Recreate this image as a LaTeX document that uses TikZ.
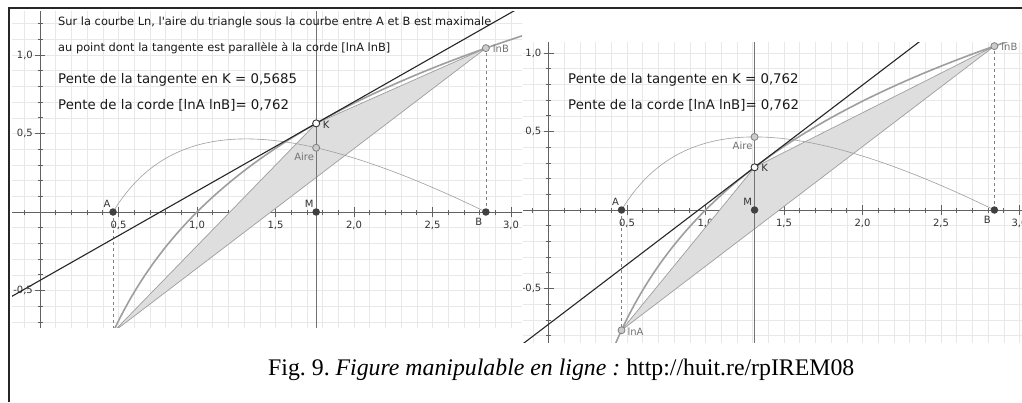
\documentclass[tikz,border=0pt]{standalone}
\usepackage{fontspec}
\setmainfont{Liberation Serif}
\newfontfamily\ggb{DejaVu Sans}
\frenchspacing
\pgfmathsetmacro\pA{0.465}
\pgfmathsetmacro\pB{2.84}
\pgfmathsetmacro\lnA{ln(\pA)}
\pgfmathsetmacro\lnB{ln(\pB)}
\pgfmathsetmacro\sC{(\lnB-\lnA)/(\pB-\pA)}
\tikzset{
 gridln/.style={draw=black!9, line width=0.5pt},
 axisln/.style={draw=black!62, line width=0.9pt},
 tickln/.style={draw=black!62, line width=0.8pt},
 ticklab/.style={font=\ggb\fontsize{10}{11}\selectfont, text=black!80, inner sep=0pt},
 lncurve/.style={draw=black!38, line width=1.6pt},
 tri/.style={fill=black!13, draw=black!38, line width=0.7pt},
 tangent/.style={draw=black!85, line width=1.1pt},
 airecurve/.style={draw=black!38, line width=0.6pt},
 mline/.style={draw=black!55, line width=0.7pt},
 dashln/.style={draw=black!50, dash pattern=on 3pt off 3pt, line width=0.6pt},
 darkpt/.style={circle, fill=black!75, inner sep=0pt, minimum size=7.5pt},
 openpt/.style={circle, fill=white, draw=black!80, line width=0.9pt, inner sep=0pt, minimum size=7pt},
 graypt/.style={circle, fill=black!20, draw=black!50, line width=0.8pt, inner sep=0pt, minimum size=7pt},
 ptlab/.style={font=\ggb\fontsize{10}{11}\selectfont, text=black!80, inner sep=0pt},
 graylab/.style={ptlab, text=black!55},
 smalltxt/.style={font=\ggb\fontsize{11.4}{13}\selectfont, anchor=base west, inner sep=0pt, text=black!90},
 bigtxt/.style={font=\ggb\fontsize{13.3}{15}\selectfont, anchor=base west, inner sep=0pt, text=black!90},
 framel/.style={draw=black!85, line width=1.5pt},
}
% #1 prefix, #2 ox, #3 oy, #4-#7 clip (pixels), #8 xK
\newcommand\drawpanel[8]{%
\begin{scope}
\clip (#4,#5) rectangle (#6,#7);
\begin{scope}[shift={(#2,#3)}, x=157pt, y=157pt]
 \pgfmathsetmacro\yK{ln(#8)}
 \pgfmathsetmacro\yAire{0.5*(\pB-\pA)*(\yK-\lnA-\sC*(#8-\pA))}
 \foreach \i in {-3,...,32} \draw[gridln] (\i/10,-1) -- (\i/10,1.5);
 \foreach \j in {-10,...,14} \draw[gridln] (-0.4,\j/10) -- (3.3,\j/10);
 \draw[axisln] (-0.4,0) -- (3.3,0);
 \draw[axisln] (0,-1) -- (0,1.5);
 \foreach \i in {-3,...,32} \draw[tickln] (\i/10,0) ++(0,-2.5pt) -- ++(0,5pt);
 \foreach \i in {1,...,6} \draw[tickln] (\i/2,0) ++(0,-5pt) -- ++(0,10pt);
 \foreach \j in {-10,...,14} \draw[tickln] (0,\j/10) ++(-2.5pt,0) -- ++(5pt,0);
 \foreach \j in {-2,-1,1,2} \draw[tickln] (0,\j/2) ++(-5pt,0) -- ++(10pt,0);
 \foreach \v/\lab in {0.5/{0,5},1/{1,0},1.5/{1,5},2/{2,0},2.5/{2,5},3/{3,0}}
   \node[ticklab] at ([yshift=-13pt]\v,0) {\lab};
 \node[ticklab, anchor=east] at ([xshift=-7pt]0,1) {1,0};
 \node[ticklab, anchor=east] at ([xshift=-7pt]0,0.5) {0,5};
 \node[ticklab, anchor=east] at ([xshift=-7pt]0,-0.5) {-0,5};
 \coordinate (#1lnA) at (\pA,\lnA);
 \coordinate (#1lnB) at (\pB,\lnB);
 \coordinate (#1K) at (#8,\yK);
 \coordinate (#1A) at (\pA,0);
 \coordinate (#1B) at (\pB,0);
 \coordinate (#1M) at (#8,0);
 \coordinate (#1Aire) at (#8,\yAire);
 \coordinate (#1Mtop) at (#8,1.5);
 \coordinate (#1Mbot) at (#8,-1);
 \coordinate (#1T1) at ({#8-2.5},{\yK-2.5/#8});
 \coordinate (#1T2) at ({#8+2.5},{\yK+2.5/#8});
 \filldraw[tri] (#1lnA) -- (#1lnB) -- (#1K) -- cycle;
 \draw[airecurve, domain=\pA:\pB, samples=120] plot (\x, {0.5*(\pB-\pA)*(ln(\x)-\lnA-\sC*(\x-\pA))});
 \draw[dashln] (#1A) -- (#1lnA);
 \draw[dashln] (#1B) -- (#1lnB);
 \draw[mline] (#1Mbot) -- (#1Mtop);
 \draw[lncurve, domain=0.42:3.3, samples=160] plot (\x, {ln(\x)});
 \draw[tangent] (#1T1) -- (#1T2);
 \node[darkpt] (#1pA) at (#1A) {};
 \node[darkpt] (#1pB) at (#1B) {};
 \node[darkpt] (#1pM) at (#1M) {};
 \node[graypt] (#1plnA) at (#1lnA) {};
 \node[graypt] (#1plnB) at (#1lnB) {};
 \node[graypt] (#1pAire) at (#1Aire) {};
 \node[openpt] (#1pK) at (#1K) {};
 \node[ptlab] (#1tA) at ([shift={(-6pt,8.5pt)}]#1A) {A};
 \node[ptlab] (#1tB) at ([shift={(-7pt,-9.5pt)}]#1B) {B};
 \node[ptlab] (#1tM) at ([shift={(-7pt,8.5pt)}]#1M) {M};
 \node[ptlab] (#1tK) at ([shift={(10pt,-1pt)}]#1K) {K};
 \node[graylab] (#1tAire) at ([shift={(-12pt,-9pt)}]#1Aire) {Aire};
 \node[graylab] (#1tlnA) at ([shift={(14pt,-1pt)}]#1lnA) {lnA};
 \node[graylab] (#1tlnB) at ([shift={(15pt,-1pt)}]#1lnB) {lnB};
\end{scope}
\end{scope}
}
\begin{document}
\begin{tikzpicture}[x=1pt, y=-1pt]
\useasboundingbox (0,0) rectangle (1022,402);
\fill[white] (0,0) rectangle (1022,402);
\drawpanel{L}{40}{212}{12}{11}{522}{327}{1.75901}
\drawpanel{R}{548.5}{210}{523}{42}{1022}{342}{1.31246}
\node[smalltxt] (t1) at (58,25) {Sur la courbe Ln, l\textquotesingle aire du triangle sous la courbe entre A et B est maximale};
\node[smalltxt] (t2) at (58,51.5) {au point dont la tangente est parallèle à la corde [lnA lnB]};
\node[bigtxt] (t3) at (58,83.5) {Pente de la tangente en K = 0,5685};
\node[bigtxt] (t4) at (58,109.5) {Pente de la corde [lnA lnB]= 0,762};
\node[bigtxt] (t5) at (568,83.5) {Pente de la tangente en K = 0,762};
\node[bigtxt] (t6) at (568,109.5) {Pente de la corde [lnA lnB]= 0,762};
\draw[framel] (9,402) -- (9,8) -- (1022,8);
\node[font=\fontsize{23.8}{26}\selectfont, anchor=base west, inner sep=0pt] (cap) at (268,375)
  {Fig. 9. \textit{Figure manipulable en ligne :} http://huit.re/rpIREM08};
\end{tikzpicture}
\end{document}
